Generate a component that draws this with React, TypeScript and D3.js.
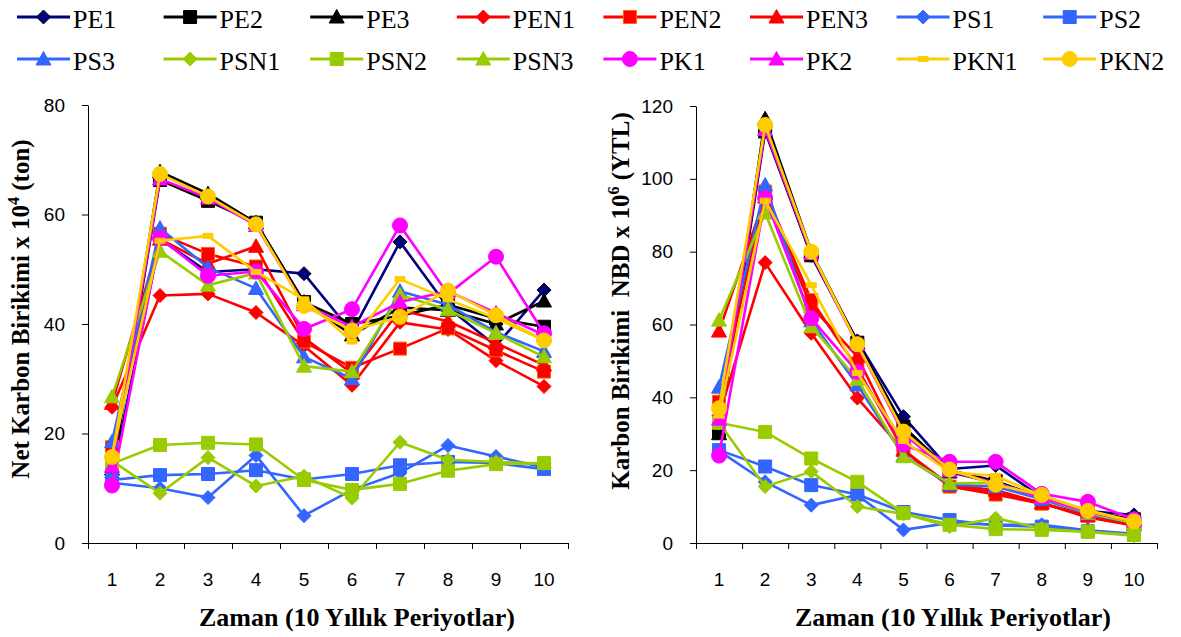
import { useEffect, useRef } from "react";
import * as d3 from "d3";

const periods = ["1", "2", "3", "4", "5", "6", "7", "8", "9", "10"];
const seriesNames = ["PE1", "PE2", "PE3", "PEN1", "PEN2", "PEN3", "PS1", "PS2", "PS3", "PSN1", "PSN2", "PSN3", "PK1", "PK2", "PKN1", "PKN2"];

// Net Karbon Birikimi x 10^4 (ton)
const netPE1 = [12, 55.5, 49.5, 50, 49.2, 38.5, 55, 43, 36, 46.2];
const netPE2 = [12.5, 66.3, 62.5, 58.5, 44, 40, 41.5, 43.5, 41, 39.5];
const netPE3 = [13.5, 67.8, 63.8, 58.5, 44, 38, 43, 42.5, 40, 44.2];
const netPEN1 = [24.8, 45.2, 45.5, 42.1, 36, 28.8, 40.3, 39, 33.3, 28.6];
const netPEN2 = [17.5, 56.5, 52.8, 50.5, 36.8, 32, 35.5, 39.2, 35.2, 31.3];
const netPEN3 = [25.5, 55.5, 51, 54.2, 37.5, 31, 42.5, 40.5, 36.5, 32.5];
const netPS1 = [11, 10, 8.3, 16, 5, 9.7, 12.8, 17.8, 15.8, 13.8];
const netPS2 = [11.5, 12.4, 12.6, 13.3, 11.6, 12.6, 14.2, 14.8, 14.6, 13.5];
const netPS3 = [18.5, 57.5, 50.3, 46.5, 34, 30, 46, 43.5, 38.5, 35];
const netPSN1 = [15, 9.1, 15.6, 10.4, 12.2, 8.2, 18.4, 15.2, 14.8, 14.5];
const netPSN2 = [14.5, 17.9, 18.3, 18, 11.5, 9.7, 10.8, 13.2, 14.4, 14.6];
const netPSN3 = [26.7, 53.3, 47.1, 49.3, 32.3, 31.3, 45.3, 42.6, 38.3, 34];
const netPK1 = [10.5, 55.7, 48.8, 49.6, 39.1, 42.7, 58, 45.5, 52.3, 38.3];
const netPK2 = [14, 66.5, 63, 58, 43.5, 39.5, 44, 46, 42, 38];
const netPKN1 = [16, 55.2, 56.1, 49.5, 44.5, 36.8, 48.2, 44.5, 41, 37];
const netPKN2 = [15.7, 67.4, 63.3, 58.2, 43.3, 38.8, 41.3, 46.1, 41.6, 37];

// Karbon Birikimi NBD x 10^6 (YTL)
const nbdPE1 = [31, 114, 79, 55.5, 34.7, 20.3, 21.3, 12.5, 8.8, 7.7];
const nbdPE2 = [30.5, 113, 79, 55, 32, 20, 17, 12.5, 8.5, 6.5];
const nbdPE3 = [30, 116.5, 80, 55, 31, 19.5, 16.5, 12.5, 8.5, 6.5];
const nbdPEN1 = [35, 77, 57.6, 39.8, 25.5, 15.5, 14, 11, 7, 4.8];
const nbdPEN2 = [38.8, 96.5, 66.7, 48, 25.5, 15.5, 13.3, 10.8, 7.5, 5];
const nbdPEN3 = [58.2, 95, 65, 51.2, 25.5, 16, 14.5, 11, 7.5, 5];
const nbdPS1 = [25.3, 16.8, 10.4, 13.2, 3.6, 5.5, 5, 5, 3.5, 2.5];
const nbdPS2 = [25.5, 21, 15.9, 13.3, 8.5, 6.3, 4.8, 4.5, 3.2, 2.3];
const nbdPS3 = [42.8, 98.3, 61, 43.4, 24, 16, 15.5, 12, 8, 5.5];
const nbdPSN1 = [33, 15.5, 19.6, 10, 8, 4.5, 6.8, 4, 3, 2];
const nbdPSN2 = [33, 30.5, 23.2, 16.8, 8.2, 5, 3.8, 3.6, 3.1, 2.2];
const nbdPSN3 = [61.2, 90.6, 59.4, 45, 23.7, 16.4, 16.5, 12.5, 8.2, 5.5];
const nbdPK1 = [24, 94.7, 61.7, 47, 27, 22.3, 22.3, 13.5, 11.3, 6.5];
const nbdPK2 = [34, 113.5, 79.5, 54.5, 30, 19.8, 16.5, 12.5, 8.5, 6];
const nbdPKN1 = [35, 94, 70.8, 46.7, 28, 19.5, 18.4, 13, 9, 6];
const nbdPKN2 = [37, 114.8, 80, 54.6, 30.6, 20.2, 16, 13.2, 8.8, 5.9];

const netSeries = [netPE1, netPE2, netPE3, netPEN1, netPEN2, netPEN3, netPS1, netPS2, netPS3, netPSN1, netPSN2, netPSN3, netPK1, netPK2, netPKN1, netPKN2];
const nbdSeries = [nbdPE1, nbdPE2, nbdPE3, nbdPEN1, nbdPEN2, nbdPEN3, nbdPS1, nbdPS2, nbdPS3, nbdPSN1, nbdPSN2, nbdPSN3, nbdPK1, nbdPK2, nbdPKN1, nbdPKN2];

const netTicks = [0, 20, 40, 60, 80];
const nbdTicks = [0, 20, 40, 60, 80, 100, 120];

const NAVY = "#000080";
const RED = "#ff0000";
const BLUE = "#3366ff";
const GREEN = "#99cc00";
const PINK = "#ff00ff";
const GOLD = "#ffcc00";

const looks = [
  { color: NAVY, shape: "diamond", fill: NAVY, stroke: "#000" },
  { color: "#000", shape: "square", fill: "#000", stroke: "#000" },
  { color: "#000", shape: "triangle", fill: "#000", stroke: "#000" },
  { color: RED, shape: "diamond", fill: RED, stroke: RED },
  { color: RED, shape: "square", fill: RED, stroke: "#ff6600" },
  { color: RED, shape: "triangle", fill: RED, stroke: RED },
  { color: BLUE, shape: "diamond", fill: BLUE, stroke: BLUE },
  { color: BLUE, shape: "square", fill: BLUE, stroke: BLUE },
  { color: BLUE, shape: "triangle", fill: BLUE, stroke: BLUE },
  { color: GREEN, shape: "diamond", fill: GREEN, stroke: GREEN },
  { color: GREEN, shape: "square", fill: GREEN, stroke: GREEN },
  { color: GREEN, shape: "triangle", fill: GREEN, stroke: GREEN },
  { color: PINK, shape: "circle", fill: PINK, stroke: PINK },
  { color: PINK, shape: "triangle", fill: PINK, stroke: PINK },
  { color: GOLD, shape: "dash", fill: GOLD, stroke: GOLD },
  { color: GOLD, shape: "circle", fill: GOLD, stroke: GOLD },
];

const markerPath = (shape) => {
  switch (shape) {
    case "diamond":
      return "M0,-7L7,0L0,7L-7,0Z";
    case "square":
      return "M-6.5,-6.5h13v13h-13Z";
    case "triangle":
      return "M0,-7.5L7.5,6L-7.5,6Z";
    case "dash":
      return "M-5,-2.5h10v5h-10Z";
    default:
      return d3.symbol(d3.symbolCircle, Math.PI * 7.5 * 7.5)();
  }
};

const SANS = "Liberation Sans, Arial, sans-serif";
const SERIF = "Liberation Serif, Times New Roman, serif";

const App = () => {
  const svgRef = useRef(null);

  useEffect(() => {
    const svg = d3.select(svgRef.current);
    svg.selectAll("*").remove();

    const drawChart = (cfg) => {
      const { data, ticks, left, right, top, bottom, max, title, sup, titleEnd, titleX, titleY, xTitleX } = cfg;
      const g = svg.append("g");

      const x = d3.scaleBand().domain(periods).range([left, right]);
      const xEdges = d3.scaleLinear().domain([0, periods.length]).range([left, right]);
      const y = d3.scaleLinear().domain([0, max]).range([bottom, top]);

      // y axis
      g.append("g")
        .attr("transform", `translate(${left},0)`)
        .call(d3.axisLeft(y).tickValues(ticks).tickSize(6).tickSizeOuter(0).tickPadding(17))
        .call((a) => a.selectAll("text").style("font-family", SANS).style("font-size", "19px").attr("fill", "#000"))
        .call((a) => a.selectAll("line,path").attr("stroke", "#000"));

      // x axis: ticks on category edges
      g.append("g")
        .attr("transform", `translate(0,${bottom})`)
        .call(d3.axisBottom(xEdges).tickValues(d3.range(periods.length + 1)).tickFormat(() => "").tickSize(6).tickSizeOuter(0))
        .call((a) => a.selectAll("line,path").attr("stroke", "#000"));

      g.append("g")
        .attr("transform", `translate(0,${bottom})`)
        .call(d3.axisBottom(x).tickSize(0).tickPadding(30))
        .call((a) => a.select(".domain").remove())
        .call((a) => a.selectAll("text").style("font-family", SANS).style("font-size", "19px").attr("fill", "#000"));

      // lines
      const line = d3
        .line()
        .x((d, i) => x(periods[i]) + x.bandwidth() / 2)
        .y((d) => y(d));

      data.forEach((vals, s) => {
        const lk = looks[s];
        g.append("path")
          .datum(vals)
          .attr("fill", "none")
          .attr("stroke", lk.color)
          .attr("stroke-width", 2.6)
          .attr("stroke-linejoin", "round")
          .attr("d", line);
        g.append("g")
          .selectAll("path")
          .data(vals)
          .join("path")
          .attr("transform", (d, i) => `translate(${x(periods[i]) + x.bandwidth() / 2},${y(d)})`)
          .attr("d", markerPath(lk.shape))
          .attr("fill", lk.fill)
          .attr("stroke", lk.stroke)
          .attr("stroke-width", 1);
      });

      // y title
      const t = g
        .append("text")
        .attr("transform", `translate(${titleX},${titleY}) rotate(-90)`)
        .attr("text-anchor", "middle")
        .style("font-family", SERIF)
        .style("font-weight", "bold")
        .style("font-size", "25px")
        .attr("fill", "#000");
      t.append("tspan").text(title);
      t.append("tspan").attr("dy", -10).style("font-size", "16px").text(sup);
      t.append("tspan").attr("dy", 10).text(titleEnd);

      // x title
      g.append("text")
        .attr("x", xTitleX)
        .attr("y", 626)
        .attr("text-anchor", "middle")
        .style("font-family", SERIF)
        .style("font-weight", "bold")
        .style("font-size", "26px")
        .attr("fill", "#000")
        .text("Zaman (10 Yıllık Periyotlar)");
    };

    drawChart({
      data: netSeries,
      ticks: netTicks,
      left: 88,
      right: 568,
      top: 105,
      bottom: 543,
      max: 80,
      title: "Net Karbon Birikimi x 10",
      sup: "4",
      titleEnd: " (ton)",
      titleX: 29,
      titleY: 309,
      xTitleX: 357,
    });

    drawChart({
      data: nbdSeries,
      ticks: nbdTicks,
      left: 696,
      right: 1157,
      top: 106,
      bottom: 543,
      max: 120,
      title: "Karbon Birikimi\u00a0\u00a0NBD x 10",
      sup: "6",
      titleEnd: " (YTL)",
      titleX: 629,
      titleY: 301,
      xTitleX: 953,
    });

    // legend
    const legend = svg.append("g");
    seriesNames.forEach((name, i) => {
      const col = i % 8;
      const row = Math.floor(i / 8);
      const lx = 17 + col * 146.6;
      const ly = 17 + row * 42;
      const lk = looks[i];
      const item = legend.append("g");
      item.append("line")
        .attr("x1", lx)
        .attr("x2", lx + 53)
        .attr("y1", ly)
        .attr("y2", ly)
        .attr("stroke", lk.color)
        .attr("stroke-width", 3);
      item.append("path")
        .attr("transform", `translate(${lx + 26.5},${ly})`)
        .attr("d", markerPath(lk.shape))
        .attr("fill", lk.fill)
        .attr("stroke", lk.stroke)
        .attr("stroke-width", 1);
      item.append("text")
        .attr("x", lx + 56)
        .attr("y", ly + 11)
        .style("font-family", SERIF)
        .style("font-size", "26px")
        .attr("fill", "#000")
        .text(name);
    });
  }, []);

  return (
    <svg
      ref={svgRef}
      width={1181}
      height={637}
      style={{ position: "absolute", left: 0, top: 0, background: "#fff" }}
    />
  );
};

export default App;
